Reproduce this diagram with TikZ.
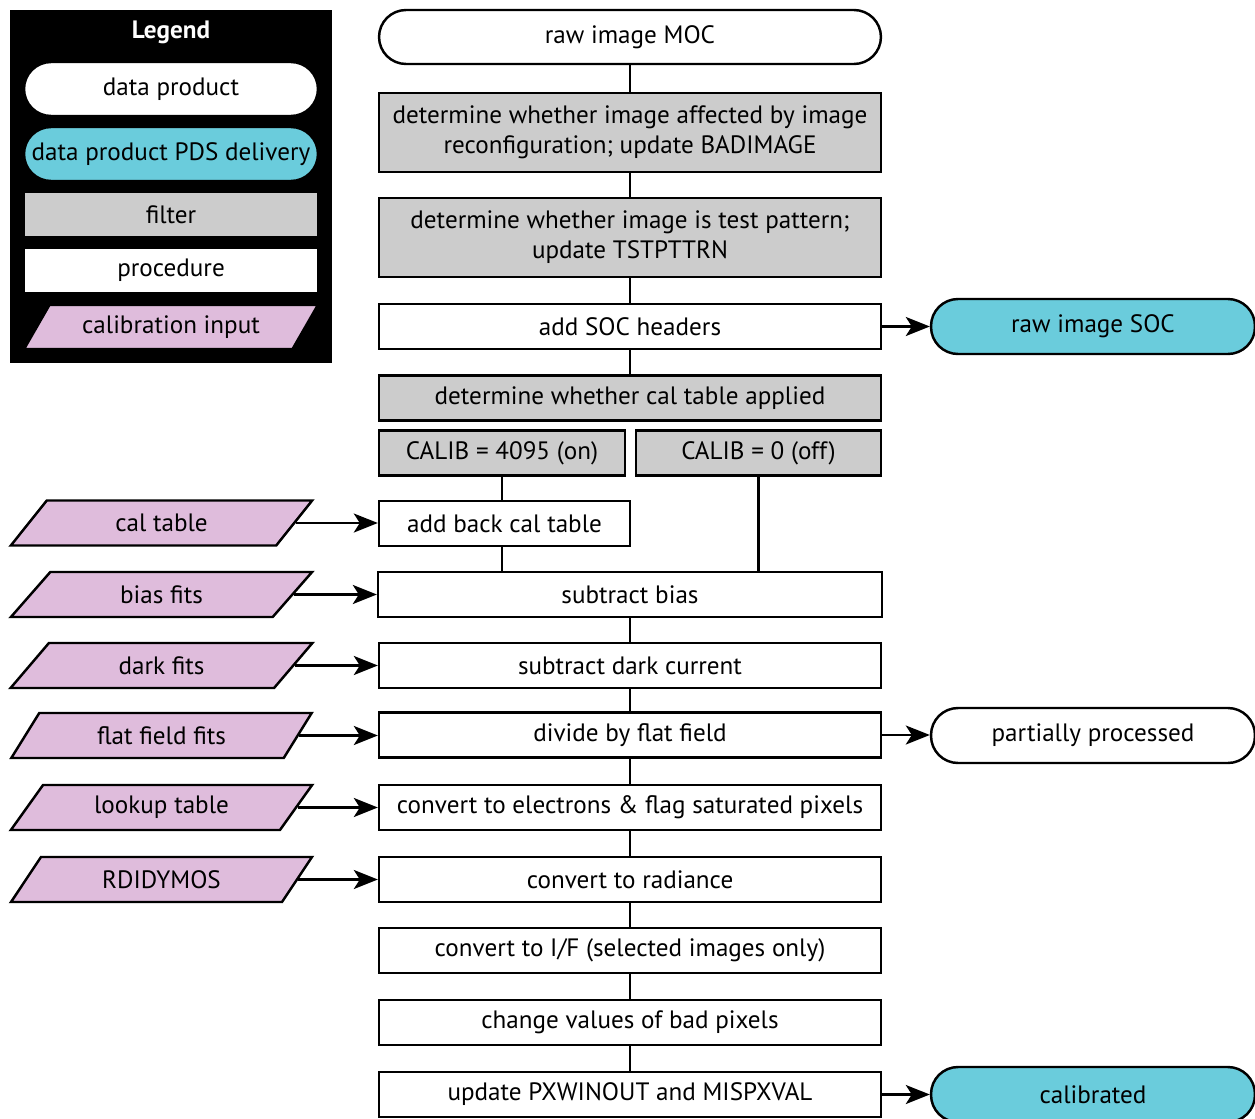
\documentclass[tikz,border=0pt]{standalone}
\usepackage{fontspec}
\setmainfont{PT Sans}
\usetikzlibrary{shapes.geometric,arrows.meta}
\definecolor{filtergray}{RGB}{204,204,204}
\definecolor{pdscyan}{RGB}{106,204,220}
\definecolor{calpink}{RGB}{223,188,220}
\tikzset{
	every node/.style={font=\fontsize{14.3}{17}\selectfont, inner sep=0pt, align=center},
	proc/.style={draw, fill=white, line width=1.4pt, minimum width=10.04cm, minimum height=0.9cm},
	filt/.style={proc, fill=filtergray},
	prod/.style={draw, fill=white, line width=1.4pt, rounded corners=0.54cm, minimum width=6.48cm, minimum height=1.1cm},
	pds/.style={prod, fill=pdscyan},
	calin/.style={trapezium, trapezium left angle=51, trapezium right angle=129, trapezium stretches=true,
		draw, fill=calpink, line width=1.4pt, minimum width=6.06cm, minimum height=0.9cm},
	link/.style={line width=1.4pt},
	feed/.style={line width=1.4pt, -{Stealth[length=0.48cm,width=0.38cm,inset=0.12cm]}}
}
\begin{document}
\begin{tikzpicture}[x=0.02cm,y=-0.02cm]
	\useasboundingbox (0,0) rectangle (1255,1119);
	% legend
	\fill[black] (10,10) rectangle (332,363);
	\node[text=white, font=\fontsize{14.3}{17}\selectfont\bfseries] (legtitle) at (171,32) {Legend};
	\node[prod, minimum width=5.88cm, minimum height=1.08cm] (legprod) at (171,89) {data product};
	\node[pds, minimum width=5.88cm, minimum height=1.08cm] (legpds) at (171,154) {data product PDS delivery};
	\node[filt, minimum width=5.88cm] (legfilt) at (171,214.5) {filter};
	\node[proc, minimum width=5.88cm] (legproc) at (171,270.5) {procedure};
	\node[calin, minimum width=5.88cm, minimum height=0.88cm] (legcal) at (171,327) {calibration input};
	% main column
	\node[prod, minimum width=10.04cm, minimum height=1.08cm] (moc) at (630,37) {raw image MOC};
	\node[filt, minimum height=1.58cm] (affect) at (630,132.5) {determine whether image affected by image\\reconfiguration; update BADIMAGE};
	\node[filt, minimum height=1.58cm] (testpat) at (630,237.5) {determine whether image is test pattern;\\update TSTPTTRN};
	\node[proc] (soc) at (630,326.5) {add SOC headers};
	\node[filt] (caltab) at (630,398) {determine whether cal table applied};
	\node[filt, minimum width=4.92cm] (calon) at (502,453) {CALIB = 4095 (on)};
	\node[filt, minimum width=4.9cm] (caloff) at (758.5,453) {CALIB = 0 (off)};
	\node[proc, minimum width=5.02cm] (addback) at (504.5,523.5) {add back cal table};
	\node[proc, minimum width=10.08cm] (bias) at (630,594.5) {subtract bias};
	\node[proc] (dark) at (630,665.5) {subtract dark current};
	\node[proc] (flat) at (630,735) {divide by flat field};
	\node[proc] (elec) at (630,807.5) {convert to electrons \& flag saturated pixels};
	\node[proc] (rad) at (630,879.5) {convert to radiance};
	\node[proc] (iof) at (630,950.5) {convert to I/F (selected images only)};
	\node[proc] (bad) at (630,1022.5) {change values of bad pixels};
	\node[proc] (upd) at (630,1094.5) {update PXWINOUT and MISPXVAL};
	% products
	\node[pds] (socout) at (1093,326.5) {raw image SOC};
	\node[prod] (partial) at (1093,735.5) {partially processed};
	\node[pds] (calib) at (1093,1094.5) {calibrated};
	% calibration inputs
	\node[calin] (calt) at (161.5,523) {cal table};
	\node[calin] (biasf) at (161.5,594.5) {bias fits};
	\node[calin] (darkf) at (161.5,665.5) {dark fits};
	\node[calin] (flatf) at (161.5,735.5) {flat field fits};
	\node[calin] (lookup) at (161.5,807.5) {lookup table};
	\node[calin] (rdid) at (161.5,879.5) {RDIDYMOS};
	% connectors
	\draw[link] (moc) -- (affect);
	\draw[link] (affect) -- (testpat);
	\draw[link] (testpat) -- (soc);
	\draw[link] (soc) -- (caltab);
	\draw[link] (calon) -- (calon |- addback.north);
	\draw[link] (addback.south -| calon) -- (bias.north -| calon);
	\draw[link] (caloff) -- (caloff |- bias.north);
	\draw[link] (bias) -- (dark);
	\draw[link] (dark) -- (flat);
	\draw[link] (flat) -- (elec);
	\draw[link] (elec) -- (rad);
	\draw[link] (rad) -- (iof);
	\draw[link] (iof) -- (bad);
	\draw[link] (bad) -- (upd);
	\draw[feed] (soc) -- (socout);
	\draw[feed] (flat) -- (flat -| partial.west);
	\draw[feed] (upd) -- (upd -| calib.west);
	\draw[feed] (calt.east) -- (calt.east -| addback.west);
	\draw[feed] (biasf.east) -- (biasf.east -| bias.west);
	\draw[feed] (darkf.east) -- (darkf.east -| dark.west);
	\draw[feed] (flatf.east) -- (flatf.east -| flat.west);
	\draw[feed] (lookup.east) -- (lookup.east -| elec.west);
	\draw[feed] (rdid.east) -- (rdid.east -| rad.west);
\end{tikzpicture}
\end{document}
